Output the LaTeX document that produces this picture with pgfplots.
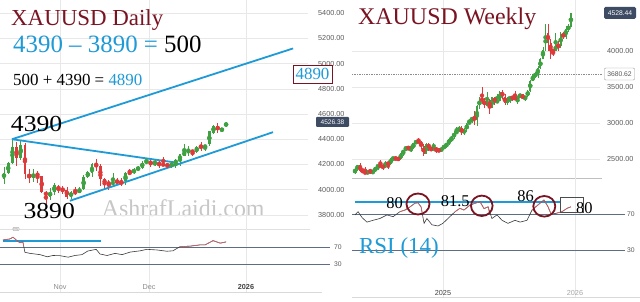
\documentclass[border=0pt]{standalone}
\usepackage{pgfplots}
\pgfplotsset{compat=1.18}
\usepackage{pgfplotstable}
\usepackage{fontspec}
\setmainfont{Liberation Serif}
\newfontfamily\axfont{Liberation Sans}
\definecolor{upc}{HTML}{3FA142}
\definecolor{dnc}{HTML}{DD3B3B}
\definecolor{bl}{HTML}{1E9AD6}
\definecolor{dred}{HTML}{7A1422}
\definecolor{axc}{HTML}{5A5A5A}
\definecolor{rsig}{HTML}{5E6E82}
\definecolor{tagc}{HTML}{3D4B63}
\definecolor{rsil}{HTML}{3A3A3A}
\definecolor{rsir}{HTML}{D8626A}

% daily candles: i = trading day index (0 = 14 Oct 2025)
\pgfplotstableread{
i o h l c
0 4085 4180 4045 4135
1 4135 4218 4122 4208
2 4208 4395 4201 4340
3 4340 4380 4185 4252
4 4252 4384 4237 4356
5 4356 4370 4082 4125
6 4125 4162 4050 4095
7 4095 4161 4063 4126
8 4126 4147 4055 4112
9 4112 4112 3971 3982
10 3982 3988 3886 3952
11 3945 4010 3918 3985
12 3985 4050 3960 4035
13 4024 4040 3970 4002
14 4002 4030 3964 4000
15 4000 4020 3929 3945
16 3945 3990 3930 3980
17 3980 4020 3960 3977
18 3977 4020 3970 4002
19 4002 4120 3995 4100
20 4100 4148 4090 4140
21 4130 4210 4100 4200
22 4195 4245 4150 4190
23 4190 4200 4032 4085
24 4085 4095 4005 4045
25 4060 4080 3998 4040
26 4040 4132 4030 4066
27 4066 4090 4040 4060
28 4060 4090 4030 4050
29 4065 4140 4040 4135
30 4135 4165 4120 4130
31 4130 4170 4125 4163
32 4163 4185 4145 4175
33 4175 4225 4165 4215
34 4218 4244 4210 4222
35 4222 4240 4180 4205
36 4205 4240 4190 4210
37 4210 4230 4175 4200
38 4200 4260 4195 4197
39 4197 4215 4170 4190
40 4190 4220 4170 4208
41 4205 4240 4170 4238
42 4232 4285 4190 4280
43 4268 4360 4265 4302
44 4302 4350 4270 4306
45 4306 4310 4270 4300
46 4302 4345 4290 4342
47 4342 4375 4310 4336
48 4336 4355 4310 4350
49 4360 4466 4350 4462
50 4450 4515 4440 4508
51 4508 4525 4450 4470
52 4470 4490 4460 4482
53 4504 4540 4495 4528
}\daily

% weekly candles: i = week index (0 = 6 May 2024)
\pgfplotstableread{
i o h l c
0 2301 2378 2292 2360
1 2360 2422 2340 2415
2 2415 2450 2325 2334
3 2334 2364 2320 2327
4 2327 2388 2287 2293
5 2293 2342 2288 2333
6 2333 2368 2296 2321
7 2321 2340 2293 2326
8 2326 2392 2318 2391
9 2391 2424 2352 2411
10 2411 2483 2393 2400
11 2400 2431 2353 2386
12 2386 2477 2381 2443
13 2443 2447 2364 2431
14 2431 2509 2414 2507
15 2507 2531 2470 2512
16 2512 2528 2488 2503
17 2503 2529 2472 2497
18 2497 2586 2486 2577
19 2577 2625 2547 2622
20 2622 2685 2613 2658
21 2658 2670 2625 2653
22 2653 2660 2604 2656
23 2656 2722 2640 2721
24 2721 2758 2708 2747
25 2747 2790 2722 2737
26 2737 2750 2643 2684
27 2684 2711 2536 2563
28 2563 2721 2563 2715
29 2715 2722 2605 2650
30 2650 2657 2613 2633
31 2633 2726 2630 2648
32 2648 2664 2583 2622
33 2622 2639 2597 2621
34 2621 2665 2596 2640
35 2640 2697 2633 2690
36 2690 2726 2657 2703
37 2703 2786 2699 2771
38 2771 2817 2730 2800
39 2800 2886 2780 2861
40 2861 2942 2856 2883
41 2883 2955 2880 2936
42 2936 2956 2832 2858
43 2858 2930 2832 2910
44 2910 3004 2880 2984
45 2984 3057 2982 3023
46 3023 3086 3000 3084
47 3084 3167 2971 3037
48 3037 3245 2957 3237
49 3237 3358 3195 3327
50 3327 3500 3260 3319
51 3319 3352 3202 3240
52 3240 3435 3232 3325
53 3325 3334 3121 3204
54 3204 3366 3205 3357
55 3357 3365 3245 3289
56 3289 3403 3290 3310
57 3310 3446 3300 3433
58 3433 3452 3340 3368
59 3368 3398 3256 3274
60 3274 3365 3247 3337
61 3337 3375 3283 3355
62 3355 3377 3310 3350
63 3350 3438 3325 3337
64 3337 3363 3268 3363
65 3363 3409 3350 3398
66 3398 3400 3330 3335
67 3335 3378 3311 3371
68 3371 3453 3363 3448
69 3448 3600 3436 3586
70 3586 3674 3577 3643
71 3643 3707 3627 3685
72 3685 3791 3628 3760
73 3760 3897 3751 3886
74 3886 4059 3885 4018
75 4018 4380 3998 4250
76 4250 4381 4004 4113
77 4113 4161 3886 4002
78 4002 4020 3930 4000
79 4000 4245 3997 4085
80 4085 4132 3998 4065
81 4065 4264 4040 4240
82 4240 4264 4165 4198
83 4198 4353 4170 4300
84 4300 4375 4270 4338
85 4338 4530 4338 4528
}\weekly

\pgfplotsset{
  base/.style={scale only axis, anchor=south west, clip=false,
    axis line style={draw=none}, major tick length=0pt,
    grid style={draw=black!9, line width=0.5bp},
    tick label style={font=\axfont\fontsize{7.3}{8}\selectfont, text=axc},
    /pgf/number format/assume math mode=true},
  candle/.style 2 args={color=#1, only marks, mark=none, forget plot,
    error bars/y dir=both, error bars/y explicit, error bars/error mark=none,
    error bars/error bar style={draw=#1, line width=#2, solid}},
  isup/.style={restrict expr to domain={\thisrow{c}-\thisrow{o}}{0:100000}},
  isdn/.style={restrict expr to domain={\thisrow{c}-\thisrow{o}}{-100000:-0.01}},
}

\begin{document}
\begin{tikzpicture}
\fill[white] (0,0) rectangle (640bp,302bp);
\path[use as bounding box] (0,0) rectangle (640bp,302bp);

\begin{scope}[x=1bp, y=-1bp, yshift=302bp]
\node[anchor=base west, inner sep=0, text=black!22, font=\fontsize{24}{24}\selectfont] at (101.7,217) {AshrafLaidi.com};
\draw[black!12, line width=0.6bp] (0,229) -- (310,229);
\draw[black!15, line width=0.6bp] (0,292) -- (322,292);
\draw[black!25, line width=0.7bp] (352,178) -- (602,178);
\draw[black!15, line width=0.6bp] (352,297) -- (640,297);
\end{scope}

% ---------- left: daily price ----------
\begin{axis}[base, at={(0bp,76bp)}, width=308bp, height=226bp,
  xmin=-0.955, xmax=72.55, ymin=3712, ymax=5504,
  xtick={13.37,34.6,57.76}, xticklabels={}, xmajorgrids,
  ytick={3800,4000,...,5400}, ymajorgrids,
  yticklabel pos=right, yticklabel style={anchor=east, xshift=40bp},
  yticklabel={\pgfmathprintnumber[fixed,fixed zerofill,precision=2,1000 sep={}]{\tick}}]
\addplot[candle={upc}{0.7bp}, isup] table[x=i, y expr={(\thisrow{h}+\thisrow{l})/2}, y error expr={(\thisrow{h}-\thisrow{l})/2}] {\daily};
\addplot[candle={dnc}{0.7bp}, isdn] table[x=i, y expr={(\thisrow{h}+\thisrow{l})/2}, y error expr={(\thisrow{h}-\thisrow{l})/2}] {\daily};
\addplot[candle={upc}{2.8bp}, isup] table[x=i, y expr={(\thisrow{o}+\thisrow{c})/2}, y error expr={max(abs(\thisrow{c}-\thisrow{o})/2,4)}] {\daily};
\addplot[candle={dnc}{2.8bp}, isdn] table[x=i, y expr={(\thisrow{o}+\thisrow{c})/2}, y error expr={max(abs(\thisrow{c}-\thisrow{o})/2,4)}] {\daily};
\addplot[bl, line width=1.8bp] coordinates {(1.9,4400) (69,5120)};
\addplot[bl, line width=1.8bp] coordinates {(1.9,4400) (40.8,4216)};
\addplot[bl, line width=1.8bp] coordinates {(15.75,3912) (64.2,4456)};
\end{axis}

% ---------- left: daily RSI ----------
\begin{axis}[base, at={(0bp,10bp)}, width=308bp, height=66bp,
  xmin=-0.955, xmax=72.55, ymin=-35.9, ymax=119.4,
  xtick={13.37,34.6,57.76}, xticklabels={}, xmajorgrids, ytick=\empty]
\addplot[rsig, line width=0.9bp] coordinates {(-0.955,70) (77.8,70)};
\addplot[rsig, line width=0.9bp] coordinates {(-0.955,30) (77.8,30)};
\addplot[bl, line width=1.6bp] coordinates {(-0.24,84) (23.15,84)};
\addplot[rsil, line width=0.6bp] coordinates {
(-0.24,86.5) (1.43,89) (2.15,93) (3.1,85) (3.8,80) (4.5,82) (5.0,57.5) (6.2,55)
(8.6,52) (10.3,47) (11.7,50) (13.4,49.5) (15.3,46) (16.9,50) (18.6,52) (20,60.5)
(22,64.5) (22.9,53.5) (24.6,50) (26.5,55) (28.2,52) (30.1,58) (32.5,61) (34.1,64.5)
(36.5,63) (38.9,60) (40.3,61) (42,70.7) (44.4,72) (46.8,75) (48,75) (49.9,85)
(51.6,79) (53,82)};
\addplot[rsir, line width=0.6bp] coordinates {
(-0.24,86.5) (1.43,89) (2.15,93) (3.1,85) (3.8,80) (4.5,82) (4.7,72)};
\addplot[rsir, line width=0.6bp] coordinates {
(42,70.7) (44.4,72) (46.8,75) (48,75) (49.9,85) (51.6,79) (53,82)};
\end{axis}

% ---------- right: weekly price ----------
\begin{axis}[base, at={(352bp,124bp)}, width=248bp, height=178bp,
  xmin=-1.18, xmax=96.46, ymin=2236.1, ymax=4708.3,
  xtick={34.6,86.6}, xticklabels={}, xmajorgrids,
  ytick={2500,3000,3500,4000}, ymajorgrids,
  yticklabel pos=right, yticklabel style={anchor=east, xshift=37bp},
  yticklabel={\pgfmathprintnumber[fixed,fixed zerofill,precision=2,1000 sep={}]{\tick}}]
\addplot[black!45, densely dotted, line width=0.7bp] coordinates {(-1.18,3680.62) (97.6,3680.62)};
\addplot[candle={upc}{0.6bp}, isup] table[x=i, y expr={(\thisrow{h}+\thisrow{l})/2}, y error expr={(\thisrow{h}-\thisrow{l})/2}] {\weekly};
\addplot[candle={dnc}{0.6bp}, isdn] table[x=i, y expr={(\thisrow{h}+\thisrow{l})/2}, y error expr={(\thisrow{h}-\thisrow{l})/2}] {\weekly};
\addplot[candle={upc}{1.9bp}, isup] table[x=i, y expr={(\thisrow{o}+\thisrow{c})/2}, y error expr={max(abs(\thisrow{c}-\thisrow{o})/2,7)}] {\weekly};
\addplot[candle={dnc}{1.9bp}, isdn] table[x=i, y expr={(\thisrow{o}+\thisrow{c})/2}, y error expr={max(abs(\thisrow{c}-\thisrow{o})/2,7)}] {\weekly};
\end{axis}

% ---------- right: weekly RSI ----------
\begin{axis}[base, at={(352bp,5bp)}, width=248bp, height=119bp,
  xmin=-1.18, xmax=96.46, ymin=-22.2, ymax=110,
  xtick={34.6,86.6}, xticklabels={}, xmajorgrids, ytick=\empty]
\addplot[rsig, line width=0.9bp] coordinates {(-1.18,70) (106.3,70)};
\addplot[rsig, line width=0.9bp] coordinates {(-1.18,30) (106.3,30)};
\addplot[bl, line width=1.6bp] coordinates {(0,83.3) (80.7,83.3)};
\addplot[rsil, line width=0.6bp] coordinates {
(0,69) (1.2,72.6) (2.8,66) (4.7,61) (7.1,63) (9.8,65) (12.6,69) (15,67) (17.7,72.6)
(19.7,74.4) (21.7,78) (23.6,82) (24.8,82.5) (26,78) (27.2,59.6) (28.3,65) (30.3,58)
(32.7,56.7) (34.6,59.6) (36.6,65) (39.4,72.6) (41.3,76.3) (42.9,74.4) (45.3,80)
(49.2,83.7) (50.8,76) (52.4,78) (53.9,65) (55.9,69) (57.9,63) (60.2,59.6) (63,63)
(65,61) (67.7,63) (69.7,74.4) (72,80) (74.4,85.6) (76,78) (77.2,70) (79.1,70.7)
(81.5,72.6) (83.5,76.3) (85,78)};
\addplot[rsir, line width=0.6bp] coordinates {(17.7,72.6) (19.7,74.4) (21.7,78) (23.6,82) (24.8,82.5) (26,78) (26.4,72)};
\addplot[rsir, line width=0.6bp] coordinates {(39.4,72.6) (41.3,76.3) (42.9,74.4) (45.3,80) (49.2,83.7) (50.8,76) (52.4,78) (52.8,72)};
\addplot[rsir, line width=0.6bp] coordinates {(69.7,74.4) (72,80) (74.4,85.6) (76,78) (77.2,70)};
\addplot[rsir, line width=0.6bp] coordinates {(79.1,70.7) (81.5,72.6) (83.5,76.3) (85,78)};
\end{axis}

% ---------- annotations ----------
\begin{scope}[x=1bp, y=-1bp, yshift=302bp]
\node[anchor=base west, inner sep=0, text=dred, font=\fontsize{23}{23}\selectfont] at (11,26) {XAUUSD Daily};
\node[anchor=base west, inner sep=0, font=\fontsize{25}{25}\selectfont] at (13,53) {\textcolor{bl}{4390 – 3890 =} 500};
\node[anchor=base west, inner sep=0, font=\fontsize{17}{17}\selectfont] at (13,86) {500 + 4390 = \textcolor{bl}{4890}};
\node[anchor=base west, inner sep=0, font=\fontsize{23}{23}\selectfont, xscale=1.12] at (10.7,132) {4390};
\node[anchor=base west, inner sep=0, font=\fontsize{23}{23}\selectfont, xscale=1.12] at (23.3,219) {3890};
\node[draw=dred, line width=0.6bp, text=bl, font=\fontsize{17}{17}\selectfont, inner sep=0pt, minimum width=39bp, minimum height=18bp] at (312.5,74) {4890};
\node[fill=tagc, rounded corners=1bp, text=white, font=\axfont\fontsize{6.6}{7}\selectfont, inner sep=0pt, minimum width=33bp, minimum height=10bp] at (332.5,122) {4526.38};
\node[draw=black!30, fill=white, rounded corners=1bp, inner sep=0.6bp, font=\axfont\fontsize{3}{3}\selectfont, text=black!50] at (16,229) {RSI};
\foreach \v/\yy in {70/247,30/264}{
  \node[font=\axfont\fontsize{6.8}{7}\selectfont, text=axc, fill=white, inner sep=0.5bp] at (338,\yy) {\v};
}
\node[font=\axfont\fontsize{7.3}{8}\selectfont, text=black!45] at (60,287) {Nov};
\node[font=\axfont\fontsize{7.3}{8}\selectfont, text=black!45] at (149,287) {Dec};
\node[font=\axfont\bfseries\fontsize{7.3}{8}\selectfont, text=black!75] at (246,287) {2026};

\node[anchor=base west, inner sep=0, text=dred, font=\fontsize{24}{24}\selectfont] at (358,25) {XAUUSD Weekly};
\node[fill=tagc, rounded corners=1.5bp, text=white, font=\axfont\fontsize{6.8}{7}\selectfont, inner sep=0pt, minimum width=32bp, minimum height=12bp] at (620,13) {4528.44};
\node[draw=black!40, fill=white, rounded corners=1bp, text=axc, font=\axfont\fontsize{6.8}{7}\selectfont, inner sep=0pt, minimum width=30bp, minimum height=12bp] at (619.5,74) {3680.62};
\foreach \v/\yy in {70/214,30/250}{
  \node[font=\axfont\fontsize{6.8}{7}\selectfont, text=axc, fill=white, inner sep=0.5bp] at (631,\yy) {\v};
}
\node[font=\axfont\fontsize{7.3}{8}\selectfont, text=black!75] at (443,293) {2025};
\node[font=\axfont\fontsize{7.3}{8}\selectfont, text=black!35] at (575,293) {2026};

\node[anchor=base west, inner sep=0, text=bl, font=\fontsize{23}{23}\selectfont] at (359,253.5) {RSI (14)};
\node[font=\fontsize{16.5}{17}\selectfont] at (394.7,203.5) {80};
\node[font=\fontsize{16.5}{17}\selectfont] at (455.3,201) {81.5};
\node[font=\fontsize{16.5}{17}\selectfont] at (525.5,195.8) {86};
\node[font=\fontsize{16.5}{17}\selectfont] at (584.3,208.3) {80};
\draw[dred, line width=1.8bp] (418,204) ellipse (11.5 and 10.5);
\draw[dred, line width=1.8bp] (481.8,205.8) ellipse (10.8 and 10.2);
\draw[dred, line width=1.8bp] (544.3,206.3) ellipse (11 and 10.3);
\draw[black!70, line width=0.8bp] (560,197.7) rectangle (583.3,212.3);
\end{scope}
\end{tikzpicture}
\end{document}
